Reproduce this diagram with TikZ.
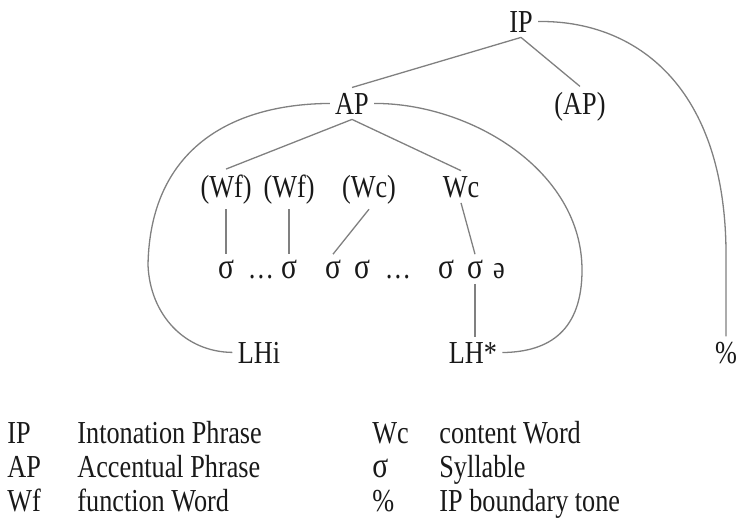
\documentclass[tikz,border=0pt]{standalone}
\usepackage{fontspec}
\setmainfont{Liberation Serif}[FakeStretch=0.82]
\usepackage{tikz}

\newcommand{\sig}{{\fontsize{18}{19}\selectfont σ}}

\begin{document}
\begin{tikzpicture}[x=0.5pt,y=-0.5pt,font=\fontsize{16}{19}\selectfont,
    lbl/.style={anchor=base,inner sep=2.5pt,text=black!90},
    key/.style={anchor=base west,inner sep=0pt,text=black!90},
    link/.style={draw=black!50,line width=0.65pt}]
  \useasboundingbox (0,0) rectangle (738,521);
  \node[lbl](ip)at(521,32){IP};
  \node[lbl](ap)at(352,114){AP};
  \node[lbl](ap2)at(580,114){(AP)};
  \node[lbl](wf1)at(226,197){(Wf)};
  \node[lbl](wf2)at(289,197){(Wf)};
  \node[lbl](wc1)at(369,197){(Wc)};
  \node[lbl](wc2)at(461,197){Wc};
  \foreach \x/\n in {226/1,289/2,333/3,362/4,446/5,475/6} \node[lbl](s\n)at(\x,278){\sig};
  \node[lbl](d1)at(261,278){\ldots};
  \node[lbl](d2)at(398,278){\ldots};
  \node[lbl](schwa)at(499,278){ə};
  \node[lbl](lhi)at(259,363){LHi};
  \node[lbl](lhs)at(473,363){LH*};
  \node[lbl](bt)at(726,363){\%};
  \draw[link](ip.south)--(ap.north);
  \draw[link](ip.south)--(ap2.north);
  \draw[link](ap.south)--(wf1.north);
  \draw[link](ap.south)--(wc2.north);
  \draw[link](wf1.south)--(s1.north);
  \draw[link](wf2.south)--(s2.north);
  \draw[link](wc1.south)--(s3.north);
  \draw[link](wc2.south)--(s6.north);
  \draw[link](s6.south)--(s6.south|-lhs.north);
  \draw[link](ap.west)..controls(230,104)and(150,150)..(148,265)..controls(150,315)and(185,352)..(lhi.west);
  \draw[link](ap.east)..controls(470,103)and(582,170)..(582,270)..controls(582,330)and(550,352)..(lhs.east);
  \draw[link](ip.east)..controls(630,20)and(724,80)..(726,250)--(bt.north);
  \foreach \k/\t/\y [count=\i] in {IP/Intonation Phrase/443,AP/Accentual Phrase/477,Wf/function Word/511}{
    \node[key](ka\i)at(7,\y){\k};
    \node[key](ta\i)at(77,\y){\t};}
  \foreach \k/\t/\y [count=\i] in {Wc/content Word/443,\sig/Syllable/477,\%/IP boundary tone/511}{
    \node[key](kb\i)at(372,\y){\k};
    \node[key](tb\i)at(439,\y){\t};}
\end{tikzpicture}
\end{document}
